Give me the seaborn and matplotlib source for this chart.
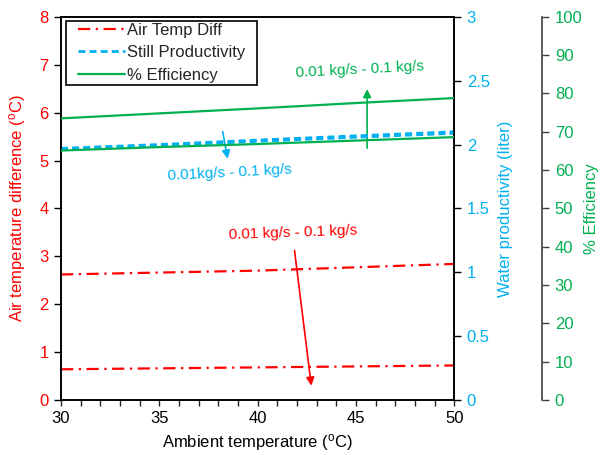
import numpy as np
import pandas as pd
import matplotlib
matplotlib.use("Agg")
import matplotlib.pyplot as plt
from matplotlib.ticker import MultipleLocator, FuncFormatter
from matplotlib.lines import Line2D
from matplotlib.patches import Rectangle
import seaborn as sns

# ---- data ----
ambient = [30, 35, 40, 45, 50]
air_diff_high = [2.62, 2.66, 2.70, 2.77, 2.84]
air_diff_low = [0.64, 0.66, 0.68, 0.70, 0.72]
prod_a = [1.970, 2.000, 2.035, 2.068, 2.100]
prod_b = [1.962, 1.992, 2.025, 2.057, 2.088]
eff_high = [73.5, 74.8, 76.1, 77.5, 78.8]
eff_low = [65.1, 66.0, 66.8, 67.7, 68.6]
legend_labels = ["Air Temp Diff", "Still Productivity", "% Efficiency"]
note = "0.01 kg/s - 0.1 kg/s"
note_blue = "0.01kg/s - 0.1 kg/s"

RED = "#FF0000"
BLUE = "#00B0F0"
GREEN = "#00B050"

sns.set_style("ticks")
plt.rcParams['font.family'] = ['Liberation Sans', 'DejaVu Sans']
plt.rcParams['font.size'] = 12
plt.rcParams['mathtext.default'] = 'regular'

FS = 12

fig = plt.figure(figsize=(6.04, 4.55), dpi=100)
ax = fig.add_axes([0.101, 0.121, 0.651, 0.842])
ax2 = ax.twinx()
ax3 = ax.twinx()
ax3.spines['right'].set_position(('axes', 1.224))

dash_dot = (0, (5.5, 2.5, 1, 2.5))
blue_dash = (0, (2.5, 1.5))
df_air = pd.DataFrame({"x": ambient, "hi": air_diff_high, "lo": air_diff_low})
sns.lineplot(data=df_air, x="x", y="hi", ax=ax, color=RED, lw=1.6, linestyle=dash_dot)
sns.lineplot(data=df_air, x="x", y="lo", ax=ax, color=RED, lw=1.6, linestyle=dash_dot)

df_p = pd.DataFrame({"x": ambient, "a": prod_a, "b": prod_b})
sns.lineplot(data=df_p, x="x", y="a", ax=ax2, color=BLUE, lw=2, linestyle=blue_dash)
sns.lineplot(data=df_p, x="x", y="b", ax=ax2, color=BLUE, lw=2, linestyle=blue_dash)

df_e = pd.DataFrame({"x": ambient, "hi": eff_high, "lo": eff_low})
sns.lineplot(data=df_e, x="x", y="hi", ax=ax3, color=GREEN, lw=1.6)
sns.lineplot(data=df_e, x="x", y="lo", ax=ax3, color=GREEN, lw=1.6)

ax.set_xlim(30, 50)
ax.set_ylim(0, 8)
ax2.set_ylim(0, 3)
ax3.set_ylim(0, 100)
ax.xaxis.set_major_locator(MultipleLocator(5))
ax.xaxis.set_minor_locator(MultipleLocator(1))
ax.yaxis.set_major_locator(MultipleLocator(1))
ax2.yaxis.set_major_locator(MultipleLocator(0.5))
ax3.yaxis.set_major_locator(MultipleLocator(10))
gfmt = FuncFormatter(lambda v, p: f"{v:g}")
for a in (ax, ax2, ax3):
    a.yaxis.set_major_formatter(gfmt)
ax.xaxis.set_major_formatter(gfmt)

for a in (ax, ax2, ax3):
    for s in a.spines.values():
        s.set_color("black")
        s.set_linewidth(1.2)
    a.tick_params(axis='both', which='major', length=5, width=1, direction='out', labelsize=FS, pad=4)
    a.tick_params(axis='x', which='minor', length=4, width=1, direction='out')
ax.tick_params(axis='x', which='major', length=4)
ax3.spines['right'].set_color("#404040")
ax3.spines['top'].set_visible(False)
ax3.spines['left'].set_visible(False)
ax3.spines['bottom'].set_visible(False)

ax.tick_params(axis='y', colors='black', labelcolor=RED)
ax.tick_params(axis='x', labelcolor='black')
ax2.tick_params(axis='y', colors='black', labelcolor=BLUE)
ax3.tick_params(axis='y', colors='#404040', labelcolor=GREEN)

ax.set_xlabel("Ambient temperature ($^{o}$C)", color='black', fontsize=FS, labelpad=4)
ax.set_ylabel("Air temperature difference ($^{o}$C)", color=RED, fontsize=FS, labelpad=8)
ax2.set_ylabel("Water productivity (liter)", color=BLUE, fontsize=FS, labelpad=6)
ax3.set_ylabel("% Efficiency", color=GREEN, fontsize=FS, labelpad=1)

# legend
handles = [Line2D([], [], color=RED, lw=1.6, linestyle=dash_dot),
           Line2D([], [], color=BLUE, lw=2, linestyle=blue_dash),
           Line2D([], [], color=GREEN, lw=1.6)]
leg = ax3.legend(handles, legend_labels,
                 loc='upper left', bbox_to_anchor=(0.0433, 0.985), frameon=False,
                 fontsize=FS, handlelength=2.8, handletextpad=0.15,
                 borderpad=0.0, labelspacing=0.45, borderaxespad=0.0)
fig.canvas.draw()
bb = leg.get_window_extent()
inv = fig.transFigure.inverted()
(fx0, fy0) = inv.transform((bb.x0 - 12, bb.y0 - 2))
(fx1, fy1) = inv.transform((bb.x1 + 12, bb.y1 + 2))
fig.patches.append(Rectangle((fx0, fy0), fx1 - fx0, fy1 - fy0, transform=fig.transFigure,
                             fill=False, ec='black', lw=1.2, zorder=5))

# annotations (left axis data coordinates)
ax.annotate("", xy=(45.57, 6.55), xytext=(45.57, 5.2),
            arrowprops=dict(arrowstyle='-|>', color=GREEN, lw=1.2, mutation_scale=12))
ax.text(45.2, 6.9, note, color=GREEN, fontsize=11, ha='center', va='center', rotation=3)

ax.annotate("", xy=(38.5, 4.98), xytext=(38.2, 5.66),
            arrowprops=dict(arrowstyle='-|>', color=BLUE, lw=1.2, mutation_scale=12))
ax.text(38.6, 4.74, note_blue, color=BLUE, fontsize=11, ha='center', va='center', rotation=3)

ax.annotate("", xy=(42.75, 0.24), xytext=(41.86, 3.18),
            arrowprops=dict(arrowstyle='-|>', color=RED, lw=1.2, mutation_scale=12))
ax.text(41.8, 3.5, note, color=RED, fontsize=11, ha='center', va='center', rotation=2)

fig.savefig("out.png", dpi=100)
